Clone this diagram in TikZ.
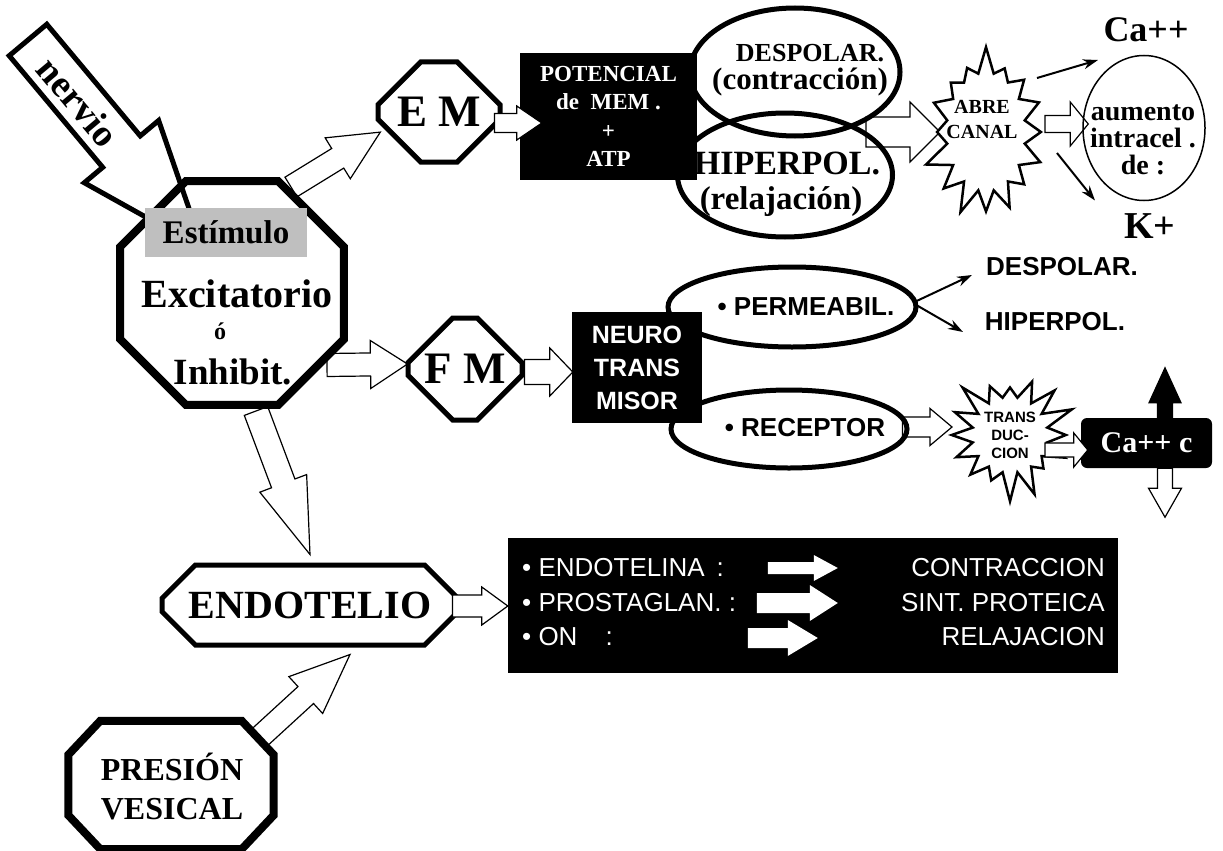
\documentclass[tikz,border=0pt]{standalone}
\usepackage{fontspec}
\setmainfont{Liberation Serif}
\setsansfont{Liberation Sans}
\usetikzlibrary{shapes.geometric,shapes.misc,shapes.symbols,arrows.meta,calc,backgrounds}

\newcommand{\fsz}[2]{\fontsize{#1}{#2}\selectfont}
% hollow block arrow: [style]{from}{to}{shaft half}{head half}{head length}
\newcommand{\blockarrow}[6][]{%
  \path let \p1=(#2), \p2=(#3) in
    \pgfextra{\pgfmathparse{atan2(\y2-\y1,\x2-\x1)}\xdef\arrang{\pgfmathresult}%
      \pgfmathparse{veclen(\x2-\x1,\y2-\y1)}\xdef\arrlen{\pgfmathresult}};
  \draw[hollow,#1,shift={(#2)},rotate=\arrang]
    (0,#4) -- ({\arrlen-#6},#4) -- ({\arrlen-#6},#5) -- (\arrlen,0)
    -- ({\arrlen-#6},-#5) -- ({\arrlen-#6},-#4) -- (0,-#4) -- cycle;}

\tikzset{
  hollow/.style={draw=black, fill=white, line width=1.2pt},
  bigoct/.style={regular polygon, regular polygon sides=8, draw, line width=8pt,
    minimum size=242pt, inner sep=0pt},
  octbox/.style={chamfered rectangle, draw, fill=white, line width=5pt,
    inner sep=0pt, align=center},
  blackbox/.style={rectangle, fill=black, text=white, inner sep=0pt, align=center},
  elli/.style={ellipse, draw, line width=5pt, inner sep=0pt},
  burst/.style={starburst, draw, fill=white, line width=2.5pt, inner sep=0pt,
    starburst points=16, starburst point height=28pt, random starburst=7, align=center},
  thinarr/.style={line width=2pt, -{Stealth[length=15pt,width=10pt]}},
  txt/.style={inner sep=0pt, align=center},
}

\begin{document}
\begin{tikzpicture}[x=1pt,y=-1pt]
    \useasboundingbox (0,0) rectangle (1223,851);

    % left: stimulus
    \node[bigoct] (estim) at (232,293) {};
    \node[txt, fill=black!25, minimum width=162pt, minimum height=49pt,
      font=\bfseries\fsz{33}{36}] (estbox) at (226,232.5) {Estímulo};
    \node[txt, font=\bfseries\fsz{40}{44}] (exc) at (237,294) {Excitatorio};
    \node[txt, font=\bfseries\fsz{24}{26}] (oacc) at (220,331) {ó};
    \node[txt, font=\bfseries\fsz{37}{40}] (inh) at (233,372) {Inhibit.};
    \coordinate (nervtail) at (28,40);
    \node[txt, rotate=-50, font=\bfseries\fsz{38}{40}] (nervtxt) at (78,102) {nervio};

    \node[octbox, minimum width=122pt, minimum height=100pt, font=\bfseries\fsz{45}{48},
      chamfered rectangle xsep=28pt, chamfered rectangle ysep=28pt] (em) at (439,112) {E M};
    \node[octbox, minimum width=114pt, minimum height=102pt, font=\bfseries\fsz{45}{48},
      chamfered rectangle xsep=31pt, chamfered rectangle ysep=30pt] (fm) at (465,369) {F M};
    \node[octbox, minimum width=296pt, minimum height=80pt, font=\bfseries\fsz{40}{44},
      chamfered rectangle xsep=24pt, chamfered rectangle ysep=20pt] (endo) at (310,605) {ENDOTELIO};
    % presion: octagon drawn from the box corners
    \node[rectangle, inner sep=0pt, minimum width=205pt, minimum height=128pt] (pres) at (171,785) {};
    \draw[line width=8pt, fill=white] ($(pres.north west)+(32,0)$) -- ($(pres.north east)+(-32,0)$)
      -- ($(pres.north east)+(0,34)$) -- ($(pres.south east)+(0,-34)$) -- ($(pres.south east)+(-32,0)$)
      -- ($(pres.south west)+(32,0)$) -- ($(pres.south west)+(0,-34)$) -- ($(pres.north west)+(0,34)$) -- cycle;
    \node[txt, font=\bfseries\fsz{32}{39}] (prestxt) at (172,787) {PRESIÓN\\VESICAL};

    % top row: E M
    \node[elli, minimum width=210pt, minimum height=128pt] (despol) at (795,72) {};
    \node[elli, minimum width=215pt, minimum height=124pt] (hiper) at (785,175) {};
    \node[blackbox, minimum width=177pt, minimum height=127pt, font=\bfseries\fsz{23}{28.3}] (pot) at (608.5,116.5)
      {POTENCIAL\\de~~MEM .\\+\\ATP};
    \node[txt, font=\bfseries\fsz{26}{28}] (despoltxt) at (810,53) {DESPOLAR.};
    \node[txt, font=\bfseries\fsz{31}{34}] (contrtxt) at (800,82.5) {(contracción)};
    \node[txt, font=\bfseries\fsz{34}{36}] (hipertxt) at (787,163) {HIPERPOL.};
    \node[txt, font=\bfseries\fsz{33}{36}] (relatxt) at (781,202) {(relajación)};
    \node[burst, minimum width=135pt, minimum height=175pt] (abre) at (986,132) {};
    \node[txt, font=\bfseries\fsz{20}{25}] (abretxt) at (982,119) {ABRE\\CANAL};
    \node[ellipse, draw, line width=1.5pt, minimum width=122pt, minimum height=145pt] (circ) at (1144,128) {};
    \node[txt, font=\bfseries\fsz{28}{27}] (circtxt) at (1143,140) {aumento\\intracel .\\de :};
    \node[txt, font=\bfseries\fsz{36}{38}] (ca) at (1146,30) {Ca++};
    \node[txt, font=\bfseries\fsz{38}{40}] (kp) at (1150,226.5) {K+};

    % middle row: F M
    \node[elli, minimum width=248pt, minimum height=80pt] (perme) at (792,307) {};
    \node[elli, minimum width=236pt, minimum height=78pt] (recep) at (789,429) {};
    \node[blackbox, minimum width=130pt, minimum height=111pt, font=\sffamily\bfseries\fsz{25}{33}] (neuro) at (637,367.5)
      {NEURO\\TRANS\\MISOR};
    \node[txt, font=\sffamily\bfseries\fsz{26}{28}] (permetxt) at (806,307) {• PERMEABIL.};
    \node[txt, font=\sffamily\bfseries\fsz{26}{28}] (receptxt) at (805,428) {• RECEPTOR};
    \node[txt, font=\sffamily\bfseries\fsz{26}{28}] (desp2) at (1062,267) {DESPOLAR.};
    \node[txt, font=\sffamily\bfseries\fsz{26}{28}] (hip2) at (1055,322) {HIPERPOL.};
    \node[burst, minimum width=136pt, minimum height=136pt, random starburst=3, starburst point height=30pt,
      font=\sffamily\bfseries\fsz{15}{18}] (trans) at (1010,435) {TRANS\\DUC-\\CION};
    \node[blackbox, rounded corners=6pt, minimum width=131pt, minimum height=50pt,
      font=\bfseries\fsz{30}{32}] (cac) at (1146.5,443) {Ca++ c};

    % bottom box
    \node[blackbox, minimum width=610pt, minimum height=135pt] (ebox) at (813,605.5) {};
    \tikzset{rowtxt/.style={inner sep=0pt, text=white, font=\sffamily\fsz{26}{30}}}
    \node[rowtxt, anchor=west] (endotl) at (522,568) {• ENDOTELINA\hspace{12pt}:};
    \node[rowtxt, anchor=west] (prost) at (522,603) {• PROSTAGLAN. :};
    \node[rowtxt, anchor=west] (onl) at (522,637) {• ON\hspace{28pt}:};
    \node[rowtxt, anchor=east] (contr) at (1105,568) {CONTRACCION};
    \node[rowtxt, anchor=east] (sint) at (1105,603) {SINT. PROTEICA};
    \node[rowtxt, anchor=east] (rela) at (1105,637) {RELAJACION};

    \begin{scope}[on background layer]
      \blockarrow[line width=5pt]{nervtail}{$(estbox.center)+(-23,16.5)$}{24.5}{48.5}{127}
      \blockarrow{$(estim.center)+(59,-106)$}{$(em.west)+(5,20)$}{11.5}{24}{50}
      \blockarrow{$(estim.center)+(95,72)$}{$(fm.west)+(2,-5)$}{11.5}{24}{37}
      \blockarrow{$(estim.center)+(24,118)$}{$(endo.north)+(0,-8)$}{12.5}{25}{76}
      \blockarrow{$(pres.center)+(89,-48)$}{$(endo.south)+(40,7)$}{11.5}{25}{60}
      \blockarrow{$(hiper.center)+(81,-43)$}{$(abre.center)+(-46,0)$}{15}{30}{30}
      \blockarrow{$(abre.center)+(59,-8)$}{$(circ.west)+(6,-4)$}{8.5}{22}{18}
      \blockarrow{$(recep.east)+(-7,-2)$}{$(trans.center)+(-58,-8)$}{10}{18.5}{22}
    \end{scope}

    \blockarrow{$(endo.east)+(-8,1)$}{$(ebox.west)+(0,0.5)$}{11}{19}{26}
    \blockarrow{$(fm.east)+(0,3)$}{$(neuro.west)+(1,4.5)$}{12.5}{24}{23}
    \blockarrow{$(em.east)+(-8,11)$}{$(pot.west)+(22,6.5)$}{9.5}{17}{25}
    \blockarrow{$(trans.center)+(35,15)$}{$(cac.west)+(7,7)$}{7}{17}{14}
    \blockarrow[fill=black]{$(cac.north)+(18.5,0)$}{$(cac.north)+(18.5,-50)$}{7.5}{16}{35}
    \blockarrow{$(cac.south)+(18.5,0)$}{$(cac.south)+(18.5,49)$}{7.5}{16.5}{29}
    \blockarrow[draw=none]{$(ebox.west)+(260,-37.5)$}{$(ebox.west)+(330,-37.5)$}{6}{13}{24}
    \blockarrow[draw=none]{$(ebox.west)+(249,-2.5)$}{$(ebox.west)+(330,-2.5)$}{10}{18}{28}
    \blockarrow[draw=none]{$(ebox.west)+(240,32.5)$}{$(ebox.west)+(310,32.5)$}{10}{18}{30}

    \draw[thinarr] ($(abre.center)+(51,-54)$) -- ($(ca.center)+(-48,30)$);
    \draw[thinarr] ($(abre.center)+(71,21)$) -- ($(kp.center)+(-55,-26)$);
    \draw[thinarr] ($(perme.east)+(-4,-5)$) -- ($(desp2.center)+(-90,8)$);
    \draw[thinarr] ($(perme.east)+(-4,-3)$) -- ($(hip2.center)+(-92,10)$);
\end{tikzpicture}
\end{document}
